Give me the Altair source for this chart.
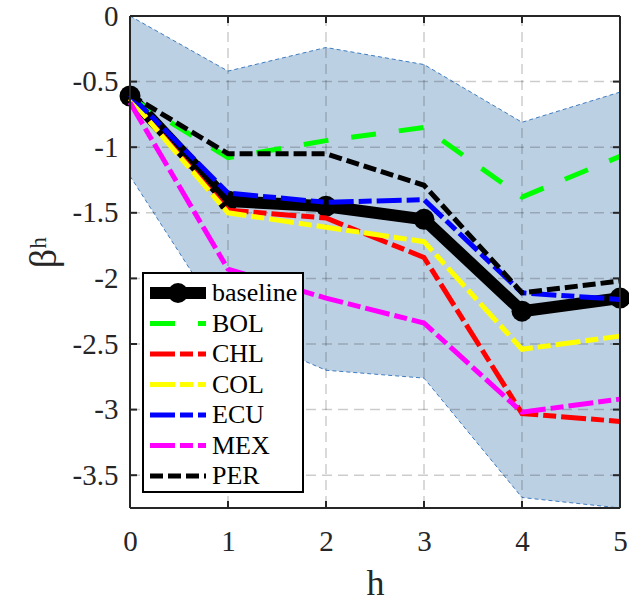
import altair as alt
import pandas as pd

# Horizons and impulse-response coefficients
H = [0, 1, 2, 3, 4, 5]
baseline = [-0.61, -1.41, -1.45, -1.55, -2.25, -2.15]
BOL = [-0.62, -1.08, -0.95, -0.85, -1.38, -1.07]
CHL = [-0.63, -1.48, -1.54, -1.84, -3.03, -3.09]
COL = [-0.63, -1.50, -1.61, -1.72, -2.54, -2.44]
ECU = [-0.60, -1.35, -1.42, -1.40, -2.11, -2.16]
MEX = [-0.66, -1.93, -2.15, -2.34, -3.02, -2.92]
PER = [-0.60, -1.05, -1.05, -1.29, -2.11, -2.02]

# Confidence band of the baseline estimate
band_upper = [0.0, -0.42, -0.24, -0.37, -0.81, -0.58]
band_lower = [-1.22, -2.38, -2.70, -2.76, -3.67, -3.75]

x_ticks = [0, 1, 2, 3, 4, 5]
y_ticks = [0, -0.5, -1, -1.5, -2, -2.5, -3, -3.5]

countries = ["BOL", "CHL", "COL", "ECU", "MEX", "PER"]
country_values = [BOL, CHL, COL, ECU, MEX, PER]
country_colors = ["#00ff00", "#ff0000", "#ffff00", "#0000ff", "#ff00ff", "#000000"]
country_dashes = [[25, 23], [25, 5, 13, 5], [25, 5, 13, 5], [25, 5, 13, 5],
                  [25, 5, 13, 5], [13, 5]]

W, HT = 490, 492
FONT = "Liberation Serif"
INK = "#262626"

x_scale = alt.Scale(domain=[0, 5], nice=False, zero=False)
y_scale = alt.Scale(domain=[-3.75, 0], nice=False, zero=False)

x_axis = alt.Axis(values=x_ticks, title="h", labelExpr="toString(datum.value)",
                  labelFont=FONT, titleFont=FONT,
                  labelPadding=19, titleFontSize=36, titleBaseline="alphabetic", titleY=86)
y_axis = alt.Axis(values=y_ticks, title="βʰ", labelExpr="toString(datum.value)",
                  labelFont=FONT, titleFont=FONT,
                  labelPadding=12, titleFontSize=38, titleAngle=270, titleX=-86, titleY=236,
                  titleAlign="center", titleBaseline="middle")


def X(field="h"):
    return alt.X(f"{field}:Q", scale=x_scale, axis=x_axis)


def Y(field="v"):
    return alt.Y(f"{field}:Q", scale=y_scale, axis=y_axis)


band_df = pd.DataFrame({"h": H, "lo": band_lower, "hi": band_upper})
band = alt.Chart(band_df).mark_area(color="#bcd0e4", opacity=1).encode(
    x=X(), y=Y("hi"), y2="lo:Q")
band_edges = [
    alt.Chart(band_df).mark_line(color="#3f7cc0", strokeWidth=1, strokeDash=[4, 3]).encode(
        x=X(), y=Y(c))
    for c in ["hi", "lo"]
]

# Dashed grid
xg = alt.Chart(pd.DataFrame({"h": x_ticks})).mark_rule(
    color="black", opacity=0.2, strokeWidth=1.5, strokeDash=[10, 6]).encode(
    x=X(), y=alt.value(0), y2=alt.value(HT))
yg = alt.Chart(pd.DataFrame({"v": y_ticks})).mark_rule(
    color="black", opacity=0.2, strokeWidth=1.5, strokeDash=[10, 6]).encode(
    y=Y(), x=alt.value(0), x2=alt.value(W))

base_df = pd.DataFrame({"h": H, "v": baseline})
base_line = alt.Chart(base_df).mark_line(color="black", strokeWidth=12, strokeJoin="round").encode(
    x=X(), y=Y())
base_pts = alt.Chart(base_df).mark_circle(color="black", size=440, opacity=1).encode(
    x=X(), y=Y())

country_layers = []
for name, vals, col, dash in zip(countries, country_values, country_colors, country_dashes):
    df = pd.DataFrame({"h": H, "v": vals})
    country_layers.append(
        alt.Chart(df).mark_line(color=col, strokeWidth=5, strokeDash=dash, strokeCap="butt").encode(
            x=X(), y=Y()))

# Box frame with inward ticks on all four sides
one = pd.DataFrame({"k": [0]})
frame = [
    alt.Chart(one).mark_rule(color=INK, strokeWidth=2).encode(
        x=alt.value(0), x2=alt.value(W), y=alt.value(0)),
    alt.Chart(one).mark_rule(color=INK, strokeWidth=2).encode(
        x=alt.value(0), x2=alt.value(W), y=alt.value(HT)),
    alt.Chart(one).mark_rule(color=INK, strokeWidth=2).encode(
        x=alt.value(0), y=alt.value(0), y2=alt.value(HT)),
    alt.Chart(one).mark_rule(color=INK, strokeWidth=2).encode(
        x=alt.value(W), y=alt.value(0), y2=alt.value(HT)),
]
xt_df = pd.DataFrame({"h": x_ticks})
yt_df = pd.DataFrame({"v": y_ticks})
ticks = [
    alt.Chart(xt_df).mark_rule(color=INK, strokeWidth=2).encode(
        x=X(), y=alt.value(0), y2=alt.value(7)),
    alt.Chart(xt_df).mark_rule(color=INK, strokeWidth=2).encode(
        x=X(), y=alt.value(HT - 7), y2=alt.value(HT)),
    alt.Chart(yt_df).mark_rule(color=INK, strokeWidth=2).encode(
        y=Y(), x=alt.value(0), x2=alt.value(7)),
    alt.Chart(yt_df).mark_rule(color=INK, strokeWidth=2).encode(
        y=Y(), x=alt.value(W - 7), x2=alt.value(W)),
]

# Legend box
LX0, LX1, LY0, LY1 = 13, 173, 257, 476
ROW0, STEP = 277, 30.5
legend = [alt.Chart(one).mark_rect(fill="white", stroke="black", strokeWidth=2).encode(
    x=alt.value(LX0), x2=alt.value(LX1), y=alt.value(LY0), y2=alt.value(LY1))]

names = ["baseline"] + countries
for i, name in enumerate(names):
    y = ROW0 + i * STEP
    d = pd.DataFrame({"series": [name]})
    if i == 0:
        legend.append(alt.Chart(d).mark_rule(color="black", strokeWidth=12).encode(
            x=alt.value(20), x2=alt.value(76), y=alt.value(y)))
        legend.append(alt.Chart(d).mark_circle(color="black", size=400, opacity=1).encode(
            x=alt.value(48), y=alt.value(y)))
    else:
        legend.append(alt.Chart(d).mark_rule(
            color=country_colors[i - 1], strokeWidth=5, strokeDash=country_dashes[i - 1],
            strokeCap="butt").encode(x=alt.value(20), x2=alt.value(76), y=alt.value(y)))
    legend.append(alt.Chart(d).mark_text(
        align="left", baseline="middle", font=FONT, fontSize=26, color="black").encode(
        x=alt.value(82), y=alt.value(y), text="series:N"))

chart = alt.layer(
    band, *band_edges, xg, yg, base_line, base_pts, *country_layers,
    *ticks, *frame, *legend
).properties(
    width=W, height=HT,
    autosize=alt.AutoSizeParams(type="none"),
    padding={"left": 130, "top": 16, "right": 9, "bottom": 93},
).configure_view(stroke=None).configure(background="white").configure_axis(
    domain=False, ticks=False, tickSize=0, grid=False, labelFlush=False,
    labelFont=FONT, labelFontSize=29, labelColor=INK,
    titleFont=FONT, titleFontWeight="normal", titleColor=INK,
)

chart.save("out.html", embed_options={"renderer": "svg", "actions": False})
